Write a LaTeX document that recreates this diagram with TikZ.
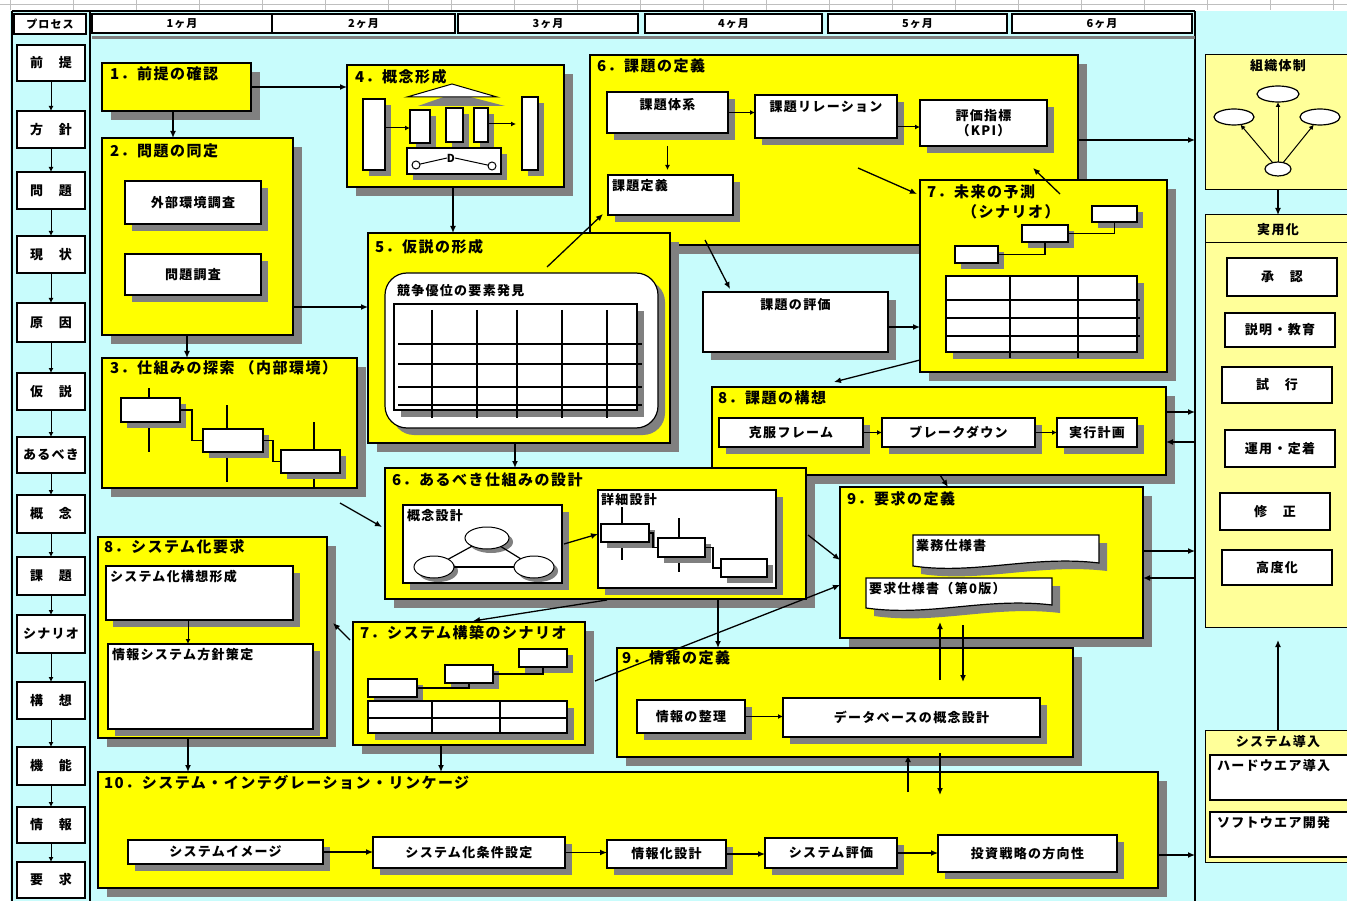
\documentclass[tikz,border=0pt]{standalone}
\usepackage{fontspec}
\setmainfont[LetterSpace=10]{Noto Sans CJK JP}
\usetikzlibrary{calc,arrows.meta,shapes.geometric}
\definecolor{bgc}{HTML}{C8FCFC}
\definecolor{ylw}{HTML}{FFFF00}
\definecolor{lyl}{HTML}{FFFF99}
\definecolor{shd}{HTML}{808080}
\newcommand\bx[7]{\node[#1,anchor=north west,minimum width={#5-#3},minimum height={#6-#4}] (#2) at (#3,#4) {#7};}
\newcommand\sbx[8]{\fill[shd] ({#3+#8},{#4+#8}) rectangle ({#5+#8},{#6+#8});
  \node[#1,anchor=north west,minimum width={#5-#3},minimum height={#6-#4}] (#2) at (#3,#4) {#7};}
\begin{document}
\begin{tikzpicture}[x=1pt,y=-1pt,
  every node/.style={inner sep=0pt,outer sep=0pt},
  font=\fontsize{13}{15}\selectfont\bfseries,
  ybox/.style={draw,fill=ylw,line width=1.4pt},
  wbox/.style={draw,fill=white,line width=1.2pt,align=center},
  pbox/.style={draw,fill=white,line width=1.2pt,align=center},
  ibox/.style={draw,fill=white,line width=1.5pt,align=center},
  lbox/.style={draw,fill=lyl,line width=1pt},
  hdr/.style={font=\fontsize{11}{12}\selectfont\bfseries,line width=1.4pt},
  lc/.style={font=\fontsize{13}{14}\selectfont\bfseries,line width=1.4pt},
  ttl/.style={anchor=north west,font=\fontsize{15}{17}\selectfont\bfseries},
  txt/.style={anchor=north west},
  ell/.style={ellipse,draw,fill=white,line width=1pt},
  ell2/.style={ellipse,draw,fill=white,line width=1.2pt},
  arr/.style={-{Latex[length=7pt,width=6pt]},line width=1.3pt},
  arrs/.style={-{Latex[length=5pt,width=5pt]},line width=1pt},
  ln/.style={line width=1.2pt},
]
\useasboundingbox (0,0) rectangle (1347,901);
% ---------- background / frame
\fill[white] (0,0) rectangle (1347,901);
\fill[bgc] (10,11) rectangle (1347,901);
\draw[gray!50] (0,4) -- (1347,4);
\foreach \i in {0,...,21} \draw[gray!50] (10+63*\i,0) -- (10+63*\i,10);
\draw[line width=1.5pt] (12,11) -- (1195,11);
\draw[line width=1.5pt] (12,11) -- (12,901);
\draw[line width=1.5pt] (90,11) -- (90,901);
\draw[line width=1.5pt] (1195,11) -- (1195,901);
\draw[line width=3pt,shd] (92,38) -- (1195,38);
% ---------- header
\bx{pbox,hdr}{hp}{14}{14}{86}{34}{プロセス}
\bx{pbox,hdr}{hm1}{92}{14}{272}{33}{1ヶ月}
\bx{pbox,hdr}{hm2}{272}{14}{455}{33}{2ヶ月}
\bx{pbox,hdr}{hm3}{458}{14}{638}{33}{3ヶ月}
\bx{pbox,hdr}{hm4}{645}{14}{822}{33}{4ヶ月}
\bx{pbox,hdr}{hm5}{828}{14}{1007}{33}{5ヶ月}
\bx{pbox,hdr}{hm6}{1012}{14}{1192}{33}{6ヶ月}
% ---------- left process column
\bx{pbox,lc}{L1}{17}{45}{85}{81}{前　提}
\bx{pbox,lc}{L2}{17}{111}{85}{148}{方　針}
\bx{pbox,lc}{L3}{17}{172}{85}{209}{問　題}
\bx{pbox,lc}{L4}{17}{236}{85}{273}{現　状}
\bx{pbox,lc}{L5}{17}{303}{85}{342}{原　因}
\bx{pbox,lc}{L6}{17}{373}{85}{410}{仮　説}
\bx{pbox,lc}{L7}{17}{437}{85}{473}{あるべき}
\bx{pbox,lc}{L8}{17}{495}{85}{533}{概　念}
\bx{pbox,lc}{L9}{17}{557}{85}{595}{課　題}
\bx{pbox,lc}{L10}{17}{615}{85}{653}{シナリオ}
\bx{pbox,lc}{L11}{17}{682}{85}{719}{構　想}
\bx{pbox,lc}{L12}{17}{747}{85}{785}{機　能}
\bx{pbox,lc}{L13}{17}{807}{85}{843}{情　報}
\bx{pbox,lc}{L14}{17}{862}{85}{898}{要　求}
\foreach \a/\b in {L1/L2,L2/L3,L3/L4,L4/L5,L5/L6,L6/L7,L7/L8,L8/L9,L9/L10,L10/L11,L11/L12,L12/L13,L13/L14}
  \draw[arrs] (\a.south) -- (\b.north);
% ---------- 1
\sbx{ybox}{b1}{102}{63}{251}{111}{}{9}
\node[ttl] (t1) at (110,67) {1．前提の確認};
% ---------- 2
\sbx{ybox}{b2}{102}{138}{293}{335}{}{9}
\node[ttl] (t2) at (110,144) {2．問題の同定};
\sbx{wbox}{b2a}{125}{181}{261}{224}{外部環境調査}{7}
\sbx{wbox}{b2b}{125}{254}{261}{295}{問題調査}{7}
% ---------- 3
\sbx{ybox}{b3}{102}{358}{357}{488}{}{9}
\node[ttl] (t3) at (110,361) {3．仕組みの探索 （内部環境）};
\draw[ln] (149,388) -- (149,398); \draw[ln] (149,428) -- (149,452);
\draw[ln] (227,405) -- (227,429); \draw[ln] (227,458) -- (227,482);
\draw[ln] (314,422) -- (314,450); \draw[ln] (314,479) -- (314,488);
\sbx{wbox}{s1}{121}{398}{180}{422}{}{6}
\sbx{wbox}{s2}{203}{429}{263}{452}{}{6}
\sbx{wbox}{s3}{281}{450}{340}{473}{}{6}
\draw[ln] (s1.east) -| ($(s2.west)+(-11,0)$) -- (s2.west);
\draw[ln] (s2.east) -| ($(s3.west)+(-8,0)$) -- (s3.west);
% ---------- 4
\sbx{ybox}{b4}{347}{65}{564}{187}{}{9}
\node[ttl] (t4) at (355,69) {4．概念形成};
\sbx{wbox}{k1}{363}{99}{385}{170}{}{6}
\sbx{wbox}{k5}{522}{97}{538}{170}{}{6}
\fill[shd] (418,106) -- (455,93) -- (505,106) -- cycle;
\draw[fill=white,line width=1pt] (407,97) -- (452,84) -- (497,97) -- cycle;
\sbx{wbox}{k2}{410}{110}{430}{143}{}{6}
\sbx{wbox}{k3}{446}{108}{463}{142}{}{6}
\sbx{wbox}{k4}{474}{108}{488}{142}{}{6}
\sbx{wbox}{kd}{407}{148}{501}{174}{}{6}
\node[circle,draw,line width=1pt,minimum size=8pt,fill=white] (kc1) at (416,165) {};
\node[circle,draw,line width=1pt,minimum size=8pt,fill=white] (kc2) at (492,166) {};
\node (kdd) at (451,158) {\fontsize{11}{11}\selectfont D};
\draw[line width=1pt] (kc1) -- (kdd.west); \draw[line width=1pt] (kdd.east) -- (kc2);
\coordinate (k5l) at (516,124);
\draw[arrs] (k1.east |- 0,128) -- (k2.west |- 0,128);
\draw[arrs] (k4.east |- 0,124) -- (k5l);
% ---------- 6 (課題の定義)
\sbx{ybox}{b6}{590}{55}{1078}{245}{}{9}
\node[ttl] (t6) at (597,59) {6．課題の定義};
\sbx{wbox}{c1}{607}{92}{728}{133}{}{7}
\node[anchor=north] (c1t) at ($(c1.north)+(0,6)$) {課題体系};
\sbx{wbox}{c2}{755}{95}{897}{138}{}{7}
\node[anchor=north] (c2t) at ($(c2.north)+(0,6)$) {課題リレーション};
\sbx{wbox}{c3}{920}{100}{1047}{146}{評価指標\\（KPI）}{7}
\sbx{wbox}{c4}{608}{175}{733}{215}{}{7}
\node[txt] (c4t) at (612,179) {課題定義};
\draw[arrs] (c1.east) -- (c1.east -| c2.west);
\draw[arrs] (c2.east |- 0,127) -- (c3.west |- 0,127);
\draw[arrs] ($(c1.south)+(0,13)$) -- ($(c4.north -| c1.south)+(0,-5)$);
% ---------- 5
\sbx{ybox}{b5}{368}{233}{670}{443}{}{9}
\node[ttl] (t5) at (375,239) {5．仮説の形成};
\fill[shd,rounded corners=22pt] (392,280) rectangle (665,435);
\node[draw,fill=white,line width=1.2pt,rounded corners=22pt,anchor=north west,minimum width=273,minimum height=155] (r5) at (385,273) {};
\node[txt] (r5t) at (397,284) {競争優位の要素発見};
\sbx{wbox}{tb5}{394}{304}{637}{410}{}{7}
\foreach \x in {432,477,517,562,607} \draw[ln] (\x,310) -- (\x,418);
\foreach \y in {344,364,387,405} \draw[ln] (398,\y) -- (642,\y);
% ---------- 7 (未来)
\sbx{ybox}{b7}{920}{180}{1167}{372}{}{9}
\node[ttl] (t7) at (927,185) {7．未来の予測};
\node[ttl] (t7b) at (962,205) {（シナリオ）};
\sbx{wbox}{m1}{1092}{206}{1137}{222}{}{6}
\sbx{wbox}{m2}{1022}{225}{1068}{242}{}{6}
\sbx{wbox}{m3}{955}{246}{998}{263}{}{6}
\draw[ln] (m3.east) -| (m2.south);
\draw[ln] (m2.east) -| (m1.south);
\sbx{wbox}{tb7}{946}{276}{1137}{352}{}{7}
\foreach \x in {1010,1078} \draw[ln] (\x,276) -- (\x,358);
\foreach \y in {300,318,336} \draw[ln] (946,\y) -- (1140,\y);
% ---------- 課題の評価
\sbx{wbox}{c5}{703}{292}{888}{352}{}{8}
\node[anchor=north] (c5t) at ($(c5.north)+(0,6)$) {課題の評価};
% ---------- 8 (課題の構想)
\sbx{ybox}{b8}{712}{387}{1166}{475}{}{9}
\node[ttl] (t8) at (718,391) {8．課題の構想};
\sbx{wbox}{d1}{719}{418}{863}{447}{克服フレーム}{7}
\sbx{wbox}{d2}{882}{418}{1035}{447}{ブレークダウン}{7}
\sbx{wbox}{d3}{1057}{418}{1137}{447}{実行計画}{7}
\draw[arrs] (d1.east) -- (d2.west);
\draw[arrs] (d2.east) -- (d3.west);
% ---------- 6 (あるべき)
\sbx{ybox}{b6l}{385}{468}{806}{599}{}{9}
\node[ttl] (t6l) at (392,473) {6．あるべき仕組みの設計};
\sbx{wbox}{e1}{403}{505}{562}{583}{}{7}
\node[txt] (e1t) at (407,509) {概念設計};
\fill[shd] (491,542) ellipse [x radius=22, y radius=11];
\fill[shd] (438,571) ellipse [x radius=20, y radius=11];
\fill[shd] (538,571) ellipse [x radius=20, y radius=11];
\node[ell,minimum width=44,minimum height=22] (o1) at (487,538) {};
\node[ell,minimum width=40,minimum height=22] (o2) at (434,567) {};
\node[ell,minimum width=40,minimum height=22] (o3) at (534,567) {};
\draw[ln] (o1) -- (o2); \draw[ln] (o1) -- (o3); \draw[ln] (o2) -- (o3);
\sbx{wbox}{e2}{598}{490}{776}{588}{}{7}
\node[txt] (e2t) at (601,493) {詳細設計};
\draw[ln] (622,507) -- (622,524); \draw[ln] (622,548) -- (622,560);
\draw[ln] (679,518) -- (679,538); \draw[ln] (679,563) -- (679,572);
\sbx{wbox}{n1}{601}{524}{649}{542}{}{6}
\sbx{wbox}{n2}{658}{538}{705}{557}{}{6}
\sbx{wbox}{n3}{721}{559}{767}{577}{}{6}
\draw[ln] (n1.east) -| ($(n2.west)+(-5,0)$) -- (n2.west);
\draw[ln] (n2.east) -| ($(n3.west)+(-8,0)$) -- (n3.west);
\draw[arr] ($(e1.east)+(2,0)$) -- ($(e2.west)+(0,-5)$);
% ---------- 9 (要求の定義)
\sbx{ybox}{b9}{840}{487}{1143}{638}{}{9}
\node[ttl] (t9) at (847,492) {9．要求の定義};
\fill[shd] (921,543) -- (1107,543) -- (1107,571) .. controls (1040,563) and (983,583) .. (921,574) -- cycle;
\draw[fill=white,line width=1.2pt] (913,535) -- (1099,535) -- (1099,563) .. controls (1032,555) and (975,575) .. (913,566) -- cycle;
\node[txt] (q1) at (916,539) {業務仕様書};
\fill[shd] (874,586) -- (1060,586) -- (1060,613) .. controls (993,605) and (938,625) .. (874,616) -- cycle;
\draw[fill=white,line width=1.2pt] (866,578) -- (1052,578) -- (1052,605) .. controls (985,597) and (930,617) .. (866,608) -- cycle;
\node[txt] (q2) at (869,582) {要求仕様書（第0版）};
% ---------- 8 (システム化要求)
\sbx{ybox}{b8l}{98}{537}{327}{738}{}{9}
\node[ttl] (t8l) at (104,540) {8．システム化要求};
\sbx{wbox}{f1}{106}{566}{293}{620}{}{7}
\node[txt] (f1t) at (110,570) {システム化構想形成};
\sbx{wbox}{f2}{108}{644}{313}{729}{}{7}
\node[txt] (f2t) at (112,648) {情報システム方針策定};
\draw[arrs] (f1.south -| 188,0) -- (f2.north -| 188,0);
% ---------- 7 (システム構築)
\sbx{ybox}{b7l}{353}{622}{585}{745}{}{9}
\node[ttl] (t7l) at (360,626) {7．システム構築のシナリオ};
\sbx{wbox}{p1}{519}{649}{567}{667}{}{6}
\sbx{wbox}{p2}{445}{665}{493}{683}{}{6}
\sbx{wbox}{p3}{368}{679}{417}{697}{}{6}
\draw[ln] (p3.east) -| (p2.south);
\draw[ln] (p2.east) -| (p1.south);
\sbx{wbox}{tb7l}{368}{701}{567}{733}{}{7}
\foreach \x in {432,500} \draw[ln] (\x,701) -- (\x,733);
\draw[ln] (368,718) -- (567,718);
% ---------- 9 (情報の定義)
\sbx{ybox}{b9l}{617}{648}{1073}{757}{}{9}
\node[ttl] (t9l) at (622,651) {9．情報の定義};
\sbx{wbox}{g1}{637}{700}{745}{733}{情報の整理}{7}
\sbx{wbox}{g2}{783}{698}{1040}{737}{データベースの概念設計}{7}
\draw[arrs] (g1.east) -- (g1.east -| g2.west);
% ---------- 10
\sbx{ybox}{b10}{98}{772}{1158}{888}{}{9}
\node[ttl] (t10) at (104,775) {10．システム・インテグレーション・リンケージ};
\sbx{wbox}{h1}{128}{840}{323}{864}{システムイメージ}{7}
\sbx{wbox}{h2}{373}{837}{565}{868}{システム化条件設定}{7}
\sbx{wbox}{h3}{607}{840}{726}{868}{情報化設計}{7}
\sbx{wbox}{h4}{765}{838}{897}{868}{システム評価}{7}
\sbx{wbox}{h5}{938}{835}{1117}{872}{投資戦略の方向性}{7}
\draw[arr] (h1.east) -- (h1.east -| h2.west);
\draw[arr] (h2.east) -- (h2.east -| h3.west);
\draw[arr] (h3.east) -- (h3.east -| h4.west);
\draw[arr] (h4.east) -- (h4.east -| h5.west);
% ---------- right column
\bx{lbox}{r1}{1205}{55}{1352}{190}{}
\node[anchor=north] (r1t) at (1278,59) {組織体制};
\node[ell2,minimum width=42,minimum height=16] (z1) at (1278,94) {};
\node[ell2,minimum width=40,minimum height=16] (z2) at (1234,117) {};
\node[ell2,minimum width=40,minimum height=16] (z3) at (1320,117) {};
\node[ell2,minimum width=26,minimum height=14] (z4) at (1278,169) {};
\draw[arrs] (z4) -- (z1); \draw[arrs] (z4) -- (z2); \draw[arrs] (z4) -- (z3);
\bx{lbox}{r2}{1205}{215}{1352}{627}{}
\node (r2t) at (1278,230) {実用化};
\draw[line width=1pt] (1205,243) -- (1352,243);
\bx{ibox}{w1}{1227}{258}{1337}{296}{承　認}
\bx{ibox}{w2}{1225}{313}{1335}{347}{説明・教育}
\bx{ibox}{w3}{1222}{367}{1332}{403}{試　行}
\bx{ibox}{w4}{1225}{430}{1335}{467}{運用・定着}
\bx{ibox}{w5}{1220}{493}{1330}{530}{修　正}
\bx{ibox}{w6}{1222}{550}{1332}{585}{高度化}
\bx{lbox}{r3}{1205}{730}{1352}{862}{}
\node (r3t) at (1278,742) {システム導入};
\bx{ibox}{r3a}{1210}{755}{1352}{800}{}
\node[txt] (r3at) at (1217,759) {ハードウエア導入};
\bx{ibox}{r3b}{1210}{812}{1352}{857}{}
\node[txt] (r3bt) at (1217,816) {ソフトウエア開発};
\draw[arr] (r1.south -| 1278,0) -- (r2.north -| 1278,0);
\draw[arr] (r3.north -| 1278,0) -- ($(r2.south -| 1278,0)+(0,13)$);
% ---------- connectors
\coordinate (rc0) at (1195,140);
\coordinate (rc1) at (1195,412);
\coordinate (rc2) at (1195,442);
\coordinate (rc3) at (1195,551);
\coordinate (rc4) at (1195,578);
\coordinate (rc5) at (1195,855);
\coordinate (u4) at (1033,168);
\draw[arr] (b1.east) -- (b1.east -| b4.west);
\draw[arr] ($(b1.south west)+(71,0)$) -- ($(b2.north west)+(71,0)$);
\draw[arr] (b2.east |- 0,307) -- (b5.west |- 0,307);
\draw[arr] (b2.south -| 187,0) -- (b3.north -| 187,0);
\draw[arr] (b4.south -| 453,0) -- (b5.north -| 453,0);
\draw[arr] ($(b5.north west)+(179,34)$) -- ($(c4.south west)+(-5,-1)$);
\draw[arr] (b5.south -| 515,0) -- (b6l.north -| 515,0);
\draw[arr] ($(b6.north west)+(268,113)$) -- ($(b7.north west)+(-3,14)$);
\draw[arr] ($(b7.north west)+(140,14)$) -- (u4);
\draw[arr] ($(b6.south west)+(115,-5)$) -- ($(c5.north west)+(27,-3)$);
\draw[arr] (c5.east |- 0,327) -- (b7.west |- 0,327);
\draw[arr] ($(b7.south west)+(0,-12)$) -- ($(b8.north west)+(122,-5)$);
\draw[arr] (b6.east |- 0,140) -- (rc0);
\draw[arr] (b8.east |- 0,412) -- (rc1);
\draw[arr] (rc2) -- (b8.east |- 0,442);
\draw[arr] ($(b8.south west)+(228,0)$) -- ($(b9.north west)+(108,0)$);
\draw[arr] (b9.east |- 0,551) -- (rc3);
\draw[arr] (rc4) -- (b9.east |- 0,578);
\draw[arr] ($(b9l.north west)+(323,32)$) -- ($(b9.south west)+(100,-16)$);
\draw[arr] ($(b9.south west)+(123,-13)$) -- ($(b9l.north west)+(346,34)$);
\draw[arr] ($(b10.north west)+(810,20)$) -- ($(b9l.south west)+(291,-2)$);
\draw[arr] ($(b9l.south west)+(323,-4)$) -- ($(b10.north west)+(842,23)$);
\draw[arr] ($(b3.south west)+(238,15)$) -- ($(b6l.north west)+(-3,59)$);
\draw[arr] ($(b6l.north east)+(2,67)$) -- ($(b9.north west)+(0,73)$);
\draw[arr] ($(b7l.north east)+(10,59)$) -- ($(b9.north west)+(0,98)$);
\draw[arr] (b6l.south -| 718,0) -- (b9l.north -| 718,0);
\draw[arr] ($(b6l.south west)+(222,1)$) -- ($(b7l.north west)+(120,-1)$);
\draw[arr] ($(b7l.north west)+(-3,18)$) -- ($(b8l.north east)+(6,86)$);
\draw[arr] (b8l.south -| 188,0) -- (b10.north -| 188,0);
\draw[arr] (b7l.south -| 441,0) -- (b10.north -| 441,0);
\draw[arr] (b10.east |- 0,855) -- (rc5);
\end{tikzpicture}
\end{document}
